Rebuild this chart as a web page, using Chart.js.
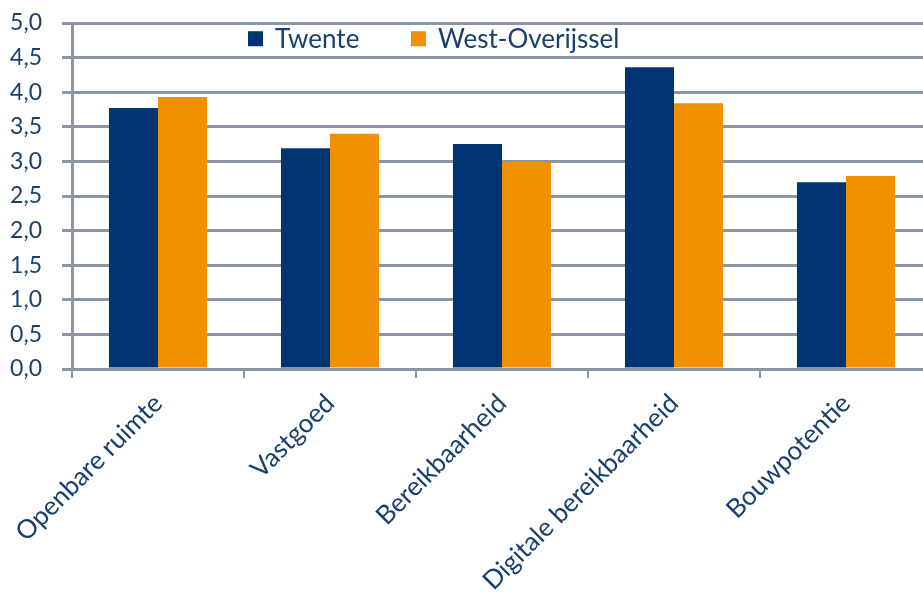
<!DOCTYPE html>
<html>
<head>
<meta charset="utf-8">
<script src="https://cdn.jsdelivr.net/npm/chart.js@4"></script>
<style>
  html, body { margin: 0; padding: 0; background: #fff; overflow: hidden; }
  #wrap { width: 932px; height: 594px; }
</style>
</head>
<body>
<div id="wrap"><canvas id="chart"></canvas></div>
<script>
const categories = ['Openbare ruimte', 'Vastgoed', 'Bereikbaarheid', 'Digitale bereikbaarheid', 'Bouwpotentie'];
const twente = [3.77, 3.19, 3.25, 4.36, 2.70];
const westOverijssel = [3.93, 3.40, 2.99, 3.84, 2.79];
const seriesNames = ['Twente', 'West-Overijssel'];
const seriesColors = ['#003473', '#F29100'];

const textColor = '#17406D';
const gridColor = '#8D94A6';
const fontFamily = 'Lato, "Open Sans", sans-serif';

// legend sits inside the plot, between the 4,5 and 5,0 lines
const innerLegend = {
    id: 'innerLegend',
    afterDraw(chart) {
        const ctx = chart.ctx;
        const y = chart.scales.y.getPixelForValue(4.78);
        let x = 248;
        ctx.save();
        ctx.font = '26px ' + fontFamily;
        ctx.textBaseline = 'middle';
        chart.data.datasets.forEach((ds) => {
            ctx.fillStyle = ds.backgroundColor;
            ctx.fillRect(x, y - 7, 15, 15);
            ctx.fillStyle = textColor;
            ctx.fillText(ds.label, x + 27, y + 1);
            x += 163;
        });
        ctx.restore();
    }
};

new Chart(document.getElementById('chart'), {
    type: 'bar',
    data: {
        labels: categories,
        datasets: [
            { label: seriesNames[0], data: twente, backgroundColor: seriesColors[0] },
            { label: seriesNames[1], data: westOverijssel, backgroundColor: seriesColors[1] }
        ]
    },
    options: {
        responsive: true,
        maintainAspectRatio: false,
        animation: false,
        layout: { padding: { top: 23, left: 0, right: 0, bottom: 0 } },
        datasets: {
            bar: { barPercentage: 1, categoryPercentage: 0.57 }
        },
        plugins: {
            legend: { display: false },
            tooltip: { enabled: false }
        },
        scales: {
            x: {
                grid: {
                    drawOnChartArea: false,
                    color: gridColor,
                    lineWidth: 2,
                    tickLength: 9,
                    offset: true
                },
                border: { color: gridColor, width: 3 },
                ticks: {
                    color: textColor,
                    font: { family: fontFamily, size: 26 },
                    minRotation: 45,
                    maxRotation: 45,
                    autoSkip: false,
                    padding: 10
                },
                afterFit(scale) {
                    scale.height = 225;
                    scale.paddingTop = 0;
                    scale.paddingLeft = 0;
                    scale.paddingRight = 0;
                }
            },
            y: {
                min: 0,
                max: 5,
                ticks: {
                    stepSize: 0.5,
                    color: textColor,
                    font: { family: fontFamily, size: 23 },
                    padding: 20,
                    callback: (v) => v.toFixed(1).replace('.', ',')
                },
                grid: { color: gridColor, lineWidth: 3, tickLength: 10 },
                border: { color: gridColor, width: 3 },
                afterFit(scale) {
                    scale.width = 72;
                    scale.paddingTop = 0;
                    scale.paddingBottom = 0;
                }
            }
        }
    },
    plugins: [innerLegend]
});
</script>
</body>
</html>
